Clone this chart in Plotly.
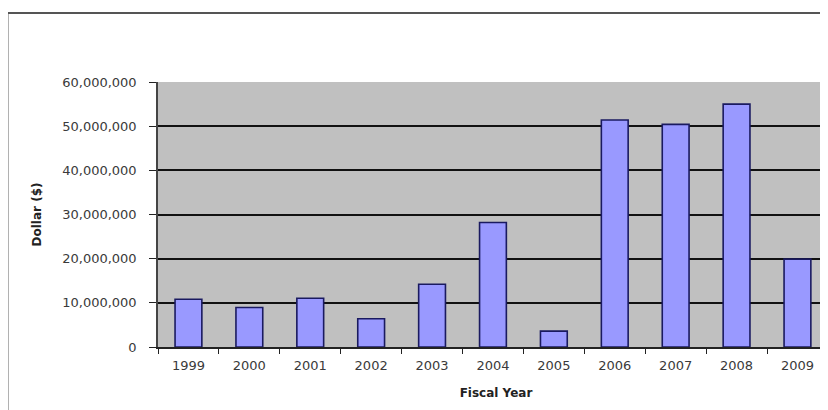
import plotly.graph_objects as go

years = ["1999", "2000", "2001", "2002", "2003", "2004", "2005", "2006", "2007", "2008", "2009"]
dollars = [10800000, 8950000, 11050000, 6400000, 14200000, 28200000, 3600000,
           51400000, 50400000, 55000000, 19900000]
y_ticks = [0, 10000000, 20000000, 30000000, 40000000, 50000000, 60000000]
y_tick_text = ["0", "10,000,000", "20,000,000", "30,000,000", "40,000,000", "50,000,000", "60,000,000"]

fig = go.Figure()
fig.add_trace(go.Bar(
    x=years, y=dollars,
    marker=dict(color="#9999FF", line=dict(color="#1a1a60", width=1.6)),
    width=0.44,
))

font_family = "DejaVu Sans, Arial, sans-serif"
fig.update_layout(
    width=828, height=402,
    margin=dict(l=150, r=0, t=74, b=63),
    paper_bgcolor="white",
    plot_bgcolor="#C0C0C0",
    showlegend=False,
    font=dict(family=font_family, size=12, color="#333333"),
    xaxis=dict(
        type="category",
        range=[-0.5, 10.6],
        showgrid=False,
        showline=True, linecolor="#222222", linewidth=1.5,
        ticks="outside", tickson="boundaries", ticklen=5, tickcolor="#222222",
        ticklabelstandoff=6,
        tickfont=dict(family=font_family, size=13, color="#3a3a3a"),
        title=dict(text="<b>Fiscal Year</b>", font=dict(family=font_family, size=12, color="#222222"), standoff=16),
    ),
    yaxis=dict(
        range=[0, 60000000],
        tickvals=y_ticks, ticktext=y_tick_text,
        showgrid=True, gridcolor="#111111", gridwidth=1.5,
        zeroline=False,
        showline=True, linecolor="#444444", linewidth=1.5, mirror=True,
        ticks="outside", ticklen=7, tickcolor="#222222",
        ticklabelstandoff=10,
        tickfont=dict(family=font_family, size=13, color="#3a3a3a"),
        title=dict(text="<b>Dollar ($)</b>", font=dict(family=font_family, size=12, color="#222222"), standoff=18),
    ),
    shapes=[dict(
        type="rect", xref="paper", yref="paper",
        x0=-0.2227, x1=1.2, y0=-0.4, y1=1.26,
        line=dict(color="#555555", width=2), fillcolor="rgba(0,0,0,0)",
        layer="above",
    )],
)

fig.write_html("out.html")
